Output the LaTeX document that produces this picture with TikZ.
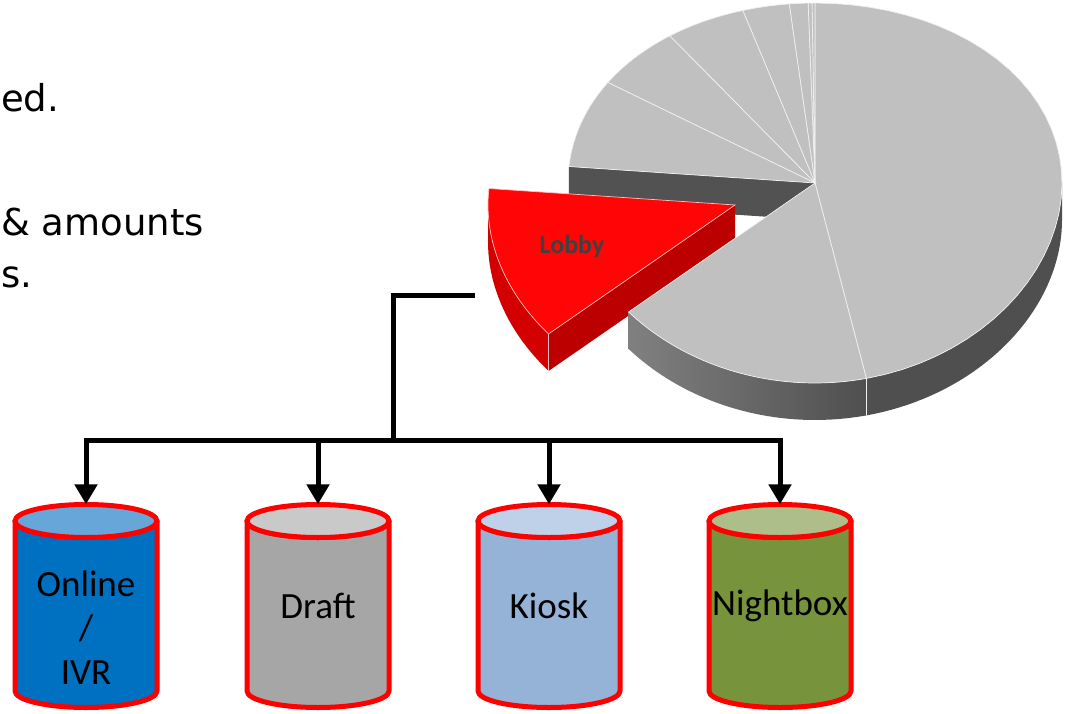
\documentclass[tikz,border=0pt]{standalone}
\usepackage{fontspec}
\setmainfont{Carlito}
\newfontfamily\dejavu{DejaVu Sans}
\usetikzlibrary{arrows.meta}
\definecolor{grayTop}{HTML}{C0C0C0}
\definecolor{sideLight}{HTML}{808080}
\definecolor{sideDark}{HTML}{4F4F4F}
\definecolor{bandDark}{HTML}{525252}
\definecolor{redTop}{HTML}{FF0505}
\definecolor{redWall}{HTML}{BC0000}
\definecolor{redRim}{HTML}{D20000}
\definecolor{edgeLight}{HTML}{F0F0F0}
\definecolor{cylRed}{HTML}{FF0000}
\definecolor{onlineBody}{HTML}{0070C0}
\definecolor{onlineTop}{HTML}{66A6D8}
\definecolor{draftBody}{HTML}{A6A6A6}
\definecolor{draftTop}{HTML}{C9C9C9}
\definecolor{kioskBody}{HTML}{95B3D7}
\definecolor{kioskTop}{HTML}{BFD1E8}
\definecolor{nightBody}{HTML}{77933C}
\definecolor{nightTop}{HTML}{ADBE8B}
\definecolor{lobbyText}{HTML}{404040}
\newcommand\drawcyl[3]{%
  \path[fill=#2,draw=cylRed,line width=5pt,line join=round]
    (#1-71,521) -- (#1-71,691)
    arc[start angle=180,end angle=0,x radius=71,y radius=16.5]
    -- (#1+71,521)
    arc[start angle=0,end angle=180,x radius=71,y radius=16.5] -- cycle;
  \path[fill=#3,draw=cylRed,line width=5pt] (#1,521) ellipse[x radius=71,y radius=16.5];
}
\begin{document}
\begin{tikzpicture}[x=1pt,y=-1pt,
  declare function={px(\t)=815+247*cos(\t); py(\t)=183-(190-10*sin(\t))*sin(\t);},
  toptext/.style={font=\dejavu\fontsize{37}{44}\selectfont,anchor=base west,inner sep=0pt},
  cyltext/.style={font=\fontsize{37}{44}\selectfont,align=center,inner sep=0pt,text=black},
  cylbox/.style={draw=none,minimum width=142pt,minimum height=203pt,inner sep=0pt},
  conn/.style={line width=5pt,line join=miter},
  arrowed/.style={conn,-{Triangle[width=22pt,length=20pt]}},
  grayslice/.style={fill=grayTop,draw=edgeLight,line width=0.7pt},
  edge/.style={draw=edgeLight,line width=0.7pt},
  redge/.style={draw=white!75!red,line width=0.7pt}]
\useasboundingbox (0,0) rectangle (1078,714);

% left text fragments
\node[toptext] (t1) at (1,112) {ed.};
\node[toptext] (t2) at (1,235) {\& amounts};
\node[toptext] (t3) at (1,287) {s.};

% pie: exposed wall of the slice above Lobby
\fill[bandDark] (815,183) -- ({px(175)},{py(175)}) -- ({px(175)},{py(175)+37}) -- (815,220) -- cycle;

% Lobby slice (exploded)
\begin{scope}[shift={(-80,22)}]
  \fill[redWall] (815,183) -- ({px(221)},{py(221)}) -- ({px(221)},{py(221)+37}) -- (815,220) -- cycle;
  \fill[redRim] plot[domain=180:221,samples=25,variable=\t] ({px(\t)},{py(\t)})
     -- plot[domain=221:180,samples=25,variable=\t] ({px(\t)},{py(\t)+37}) -- cycle;
  \draw[redge] ({px(221)},{py(221)}) -- ({px(221)},{py(221)+37});
  \filldraw[fill=redTop,redge] (815,183) -- plot[domain=175:221,samples=30,variable=\t] ({px(\t)},{py(\t)}) -- cycle;
\end{scope}
\node[font=\bfseries\fontsize{26}{30}\selectfont,text=lobbyText,inner sep=0pt] (lobby) at (572,246) {Lobby};

% pie: outer sides
\shade[left color=sideLight,right color=sideDark] plot[domain=221:282,samples=30,variable=\t] ({px(\t)},{py(\t)})
   -- plot[domain=282:221,samples=30,variable=\t] ({px(\t)},{py(\t)+37}) -- cycle;
\fill[sideDark] plot[domain=282:360,samples=40,variable=\t] ({px(\t)},{py(\t)})
   -- plot[domain=360:282,samples=40,variable=\t] ({px(\t)},{py(\t)+37}) -- cycle;
\draw[edge] ({px(282)},{py(282)}) -- ({px(282)},{py(282)+37});

% pie: top faces
\foreach \a/\b in {282/450,90/90.7,90.7/91.6,91.6/96,96/107,107/126,126/147,147/175,221/282}
  \filldraw[grayslice] (815,183) -- plot[domain=\a:\b,samples=40,variable=\t] ({px(\t)},{py(\t)}) -- cycle;

% cylinders
\drawcyl{86}{onlineBody}{onlineTop}
\drawcyl{318}{draftBody}{draftTop}
\drawcyl{549}{kioskBody}{kioskTop}
\drawcyl{780}{nightBody}{nightTop}

\node[cylbox] (online) at (86,606) {};
\node[cyltext] (onlinetext) at (86,628) {Online\\/\\IVR};
\node[cylbox,cyltext] (draft) at (318,606) {Draft};
\node[cylbox,cyltext] (kiosk) at (549,606) {Kiosk};
\node[cylbox,cyltext] (nightbox) at (780,606) {Nightbox};

% connectors
\coordinate (stub) at (475,295);
\coordinate (junction) at (393,440);
\draw[conn] (stub) -| (junction);
\draw[arrowed] (junction) -| (online.north);
\draw[arrowed] (junction) -| (nightbox.north);
\draw[arrowed] (draft.north |- junction) -- (draft.north);
\draw[arrowed] (kiosk.north |- junction) -- (kiosk.north);
\end{tikzpicture}
\end{document}
